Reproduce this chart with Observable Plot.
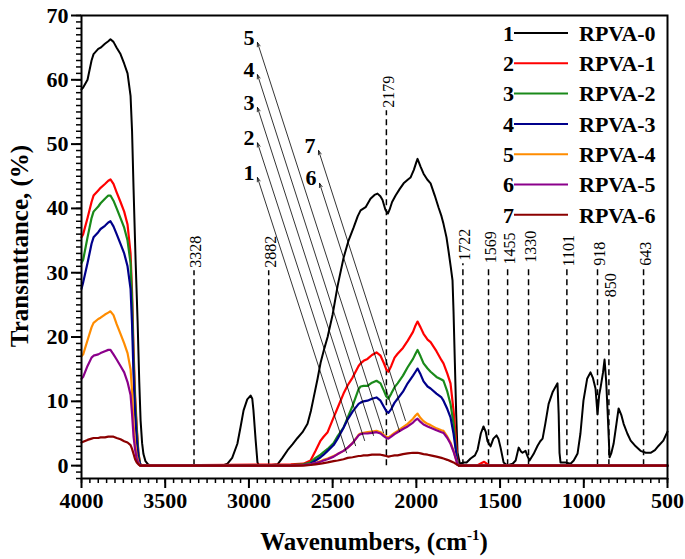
<!DOCTYPE html>
<html><head><meta charset="utf-8">
<script src="https://cdn.jsdelivr.net/npm/d3@7"></script>
<script src="https://cdn.jsdelivr.net/npm/@observablehq/plot@0.6"></script>
<style>body{margin:0;background:#fff} svg{display:block}</style>
</head><body><div id="chart"></div>
<script>
// ---------- DATA ----------
const seriesNames = ["RPVA-0","RPVA-1","RPVA-2","RPVA-3","RPVA-4","RPVA-5","RPVA-6"];
const seriesNums = ["1","2","3","4","5","6","7"];
const seriesColors = ["#000000","#ff0000","#1a8a1a","#00008b","#ff8c00","#8b008b","#8b0000"];

// RPVA-0 (black)
const w0 = [4000,3990,3964,3940,3928,3900,3886,3860,3840,3827,3809,3790,3767,3745,3725,3707,3698,3689,3677,3665,3655,3647,3638,3630,3618,3606,3590,3300,3160,3128,3100,3069,3050,3032,3010,2990,2980,2973,2960,2949,2940,2900,2829,2800,2769,2740,2710,2680,2650,2630,2614,2590,2572,2550,2530,2500,2470,2435,2405,2375,2350,2333,2303,2274,2250,2232,2215,2202,2185,2170,2160,2145,2124,2100,2076,2050,2035,2015,2000,1993,1975,1957,1935,1915,1890,1867,1850,1838,1820,1808,1795,1784,1778,1770,1762,1754,1740,1718,1700,1676,1650,1634,1615,1599,1585,1575,1557,1540,1521,1510,1497,1479,1460,1449,1425,1407,1389,1375,1366,1348,1335,1324,1300,1276,1260,1246,1230,1210,1185,1157,1150,1145,1139,1109,1079,1060,1037,1020,1002,980,960,945,930,918,908,900,885,876,866,858,846,835,822,805,792,775,762,740,720,690,661,630,601,575,553,525,500];
const t0 = [58.5,58.8,60,63,64,64.8,65,65.6,66,66.3,65.9,65,64,62.5,61,57.5,52,43,32,22.5,13,7,3.5,1.8,0.7,0.3,0,0,0,0.3,1.2,3.4,6,8.6,10.3,10.9,10.4,8.6,4,0.5,0,0,0.2,1.2,2.4,3.3,4.3,5.2,6.5,8.5,10.5,13.5,16,18.2,20,23.5,28,32.3,35,37,38.8,39.7,40.2,41.5,42.1,42.3,41.9,41.3,39.8,39.2,39.8,41,42,43,43.9,44.5,44.8,46,47.2,47.7,46.5,45.4,44.5,43.9,42,40.1,38.8,37.6,35.5,33.4,31,28.8,24,16,8,2,0.3,0.5,0.5,1.1,1.6,2.5,5,6.1,5.2,3.8,3,4.2,4.7,4.2,2.8,0.5,0.1,0.1,0.3,0.8,2.8,2.2,2,2.3,1.4,0.8,1.8,3.1,3.8,4.2,6.5,9.6,11.5,12.8,8,2,0.5,0.5,0.3,0.8,1.9,5,10.1,13.5,14.5,13.6,12,8,11,12.1,14.5,16.5,13,8.6,1.3,2,3.4,6.5,8.9,7.8,6.5,5,3.9,3,2.3,2,2,2.4,3.1,3.9,5.3];

// RPVA-1 ... RPVA-6 share one wavenumber grid
const wc = [4000,3990,3964,3940,3928,3900,3886,3860,3840,3827,3809,3790,3767,3745,3725,3707,3698,3689,3680,3670,3660,3650,3640,
  2750,2674,2632,2602,2572,2554,2530,2494,2470,2435,2410,2381,2345,2333,2315,2292,2265,2238,2214,2195,2180,2167,2150,2130,2112,2080,2052,2020,2005,1993,1975,1957,1933,1915,1880,1850,1838,1815,1796,1778,1765,1754,1745,
  1640,1610,1595,1580,1560,1540,500];
const t1 = [35.5,36,38.5,41,42,42.8,43.2,43.8,44.3,44.5,43.8,42.5,41,39.5,37.5,33,27,18,11,6,2,0.3,0,
  0.2,0.3,0.8,2.3,3.9,4.5,5.2,7.5,9,11.2,12.5,13.7,15.5,15.9,16.3,16.6,17.2,17.6,17.1,16,15,14.6,15.5,16.8,17.4,18.3,19.4,20.8,21.8,22.4,21.5,20.5,19.6,19.2,17.8,16.4,15.9,14.3,12.8,8.6,4.5,0.5,0,
  0,0.4,0.6,0.3,0,0,0];
const t2 = [31.5,32,35.5,38.5,39.5,40.3,40.8,41.5,42,42,41.2,40,38.5,37,35,31.5,25.5,16.5,10,5.5,1.8,0.3,0,
  0.1,0.2,0.5,1.2,1.7,2.1,2.6,3.5,4.6,5.9,7.5,9.3,11.9,12.3,12.4,12.4,12.9,13.2,12.8,11.7,10.8,10.4,11.2,12.2,12.8,14,15.3,16.6,17.4,18,17,15.9,15.1,14.6,13.8,13.4,13.2,11.5,9.6,6.5,3,0.4,0,
  0,0,0,0,0,0,0];
const t3 = [27.5,28.5,31.5,34.5,35.5,36.3,36.8,37.3,37.8,38,37.2,36,34.5,33,31,27.5,22,14,8,4,1.2,0.2,0,
  0,0.1,0.3,0.8,1.3,1.7,2.3,3.2,4.2,5.9,7.2,8.4,9.6,9.8,10,10.1,10.4,10.6,10.1,9.2,8.5,8.2,8.8,9.8,10.4,11.5,12.8,14,14.6,15.1,14.2,13.1,12.3,12,11.2,10.6,10.1,8.8,7.5,5,2.5,0.3,0,
  0,0,0,0,0,0,0];
const t4 = [17,17.3,19.5,21.5,22.2,22.8,23,23.5,23.8,24,23.4,22,20.5,19,17.5,15,11.5,6.5,3.5,1.5,0.5,0,0,
  0,0.1,0.2,0.4,0.7,0.9,1.1,1.5,1.8,2.3,2.8,3.5,4.8,5,5.1,5.2,5.3,5.4,5.2,4.8,4.5,4.4,4.7,5.1,5.4,6,6.5,7.3,7.8,8.1,7.4,6.9,6.5,6.3,5.8,5.5,5.4,4.5,3.6,2.3,1.2,0.2,0,
  0,0,0,0,0,0,0];
const t5 = [13.5,13.8,15.5,16.8,17.1,17.3,17.5,17.8,18,18,17.3,16.5,15.5,14.5,13,11,8,4.5,2.5,1,0.3,0,0,
  0,0.1,0.2,0.4,0.6,0.8,1.0,1.4,1.8,2.3,2.8,3.5,4.7,4.9,5,5,5.1,5.2,5,4.6,4.3,4.2,4.5,4.9,5.2,5.7,6.1,6.7,7.1,7.3,6.8,6.4,6.1,5.9,5.5,5.2,5.1,4.3,3.4,2.2,1.1,0.2,0,
  0,0,0,0,0,0,0];
const t6 = [3.6,3.7,4,4.2,4.3,4.3,4.4,4.4,4.5,4.5,4.5,4.3,4.1,3.8,3.6,3.2,2.6,1.8,1,0.5,0.2,0,0,
  0,0,0.1,0.2,0.3,0.4,0.5,0.7,0.8,1,1.2,1.3,1.5,1.5,1.6,1.6,1.7,1.7,1.7,1.6,1.5,1.4,1.5,1.6,1.6,1.8,1.9,2,2,2,1.9,1.8,1.7,1.6,1.4,1.2,1.1,0.9,0.7,0.5,0.3,0.1,0,
  0,0,0,0,0,0,0];

// peak markers
const peakW = [3328,2882,2179,1722,1569,1455,1330,1101,918,850,643];
const peakLabels = ["3328","2882","2179","1722","1569","1455","1330","1101","918","850","643"];
const peakTop = [30.3,30.3,55.2,31.4,31,30.8,31.1,30.5,30.6,25.7,30.6];

// arrows with curve numbers
const arrowNums = ["1","2","3","4","5","6","7"];
const arrowTipW = [2949,2949,2949,2949,2949,2578,2584];
const arrowTipT = [44.8,50.2,55.7,60.8,65.8,43.9,49];
const arrowEndW = [2417,2363,2309,2256,2196,2100,2065];
const arrowEndT = [2.0,3.1,3.9,4.7,5.1,5.3,7];

const xMajor = d3.range(500, 4001, 500);
const xMinor = d3.range(500, 4001, 50);
const yMajor = d3.range(0, 71, 10);
const yMinor = d3.range(-2, 71, 1);

// ---------- BUILD ----------
const seriesW = [w0, wc, wc, wc, wc, wc, wc];
const seriesT = [t0, t1, t2, t3, t4, t5, t6];
const lineMarks = seriesNames.map((name, k) =>
  Plot.line(seriesW[k].map((w, i) => ({w, t: seriesT[k][i]})),
    {x: "w", y: "t", stroke: seriesColors[k], strokeWidth: k === 0 ? 2 : 2.2})
);
const peaks = peakW.map((w, i) => ({w, top: peakTop[i], label: peakLabels[i]}));
const arrows = arrowNums.map((n, i) => ({n, x1: arrowEndW[i], y1: arrowEndT[i], x2: arrowTipW[i], y2: arrowTipT[i]}));

const svg = Plot.plot({
  width: 685, height: 559,
  marginLeft: 81, marginRight: 18, marginTop: 15, marginBottom: 81,
  x: {domain: [4000, 500]},
  y: {domain: [-2, 70]},
  style: {fontFamily: "'Liberation Serif', 'Times New Roman', serif", fontWeight: "bold", fontSize: "22px", background: "#fff", color: "#000"},
  marks: [
    Plot.ruleX(peaks, {x: "w", y1: 0, y2: "top", stroke: "#000", strokeWidth: 1.5, strokeDasharray: "6,4"}),
    Plot.text(peaks, {x: "w", y: "top", text: "label", rotate: -90, textAnchor: "start", dy: -3, dx: 2, fontSize: 16, fontWeight: "normal"}),
    ...lineMarks,
    Plot.arrow(arrows, {x1: "x1", y1: "y1", x2: "x2", y2: "y2", stroke: "#000", strokeWidth: 0.8, headLength: 8, headAngle: 40}),
    Plot.text(arrows, {x: "x2", y: "y2", text: "n", textAnchor: "end", dx: -3, dy: -5, fontSize: 22, fontWeight: "bold"}),
    Plot.axisX({ticks: xMinor, tickSize: 5, text: null, strokeWidth: 1.5, label: null}),
    Plot.axisX({ticks: xMajor, tickSize: 10, tickPadding: 4, strokeWidth: 2, label: null, fontSize: 22, tickFormat: d => String(d)}),
    Plot.axisY({ticks: yMinor, tickSize: 5, text: null, strokeWidth: 1.5, label: null}),
    Plot.axisY({ticks: yMajor, tickSize: 10, tickPadding: 3, strokeWidth: 2, label: null, fontSize: 22}),
    Plot.frame({stroke: "#000", strokeWidth: 2})
  ]
});

const s = d3.select(svg);
// axis titles
s.append("text")
  .attr("transform", "translate(28,246) rotate(-90)")
  .attr("text-anchor", "middle")
  .attr("font-size", 25).attr("font-weight", "bold")
  .text("Transmttance, (%)");
const xl = s.append("text")
  .attr("x", 374).attr("y", 550)
  .attr("text-anchor", "middle")
  .attr("font-size", 25).attr("font-weight", "bold");
xl.append("tspan").text("Wavenumbers, (cm");
xl.append("tspan").attr("font-size", 15).attr("dy", -10).text("-1");
xl.append("tspan").attr("dy", 10).text(")");

// legend
const lg = s.append("g");
seriesNames.forEach((name, i) => {
  const y = 33 + i * 30.3;
  lg.append("text").attr("x", 514).attr("y", y).attr("dy", "0.35em").attr("text-anchor", "end")
    .attr("font-size", 22).attr("font-weight", "bold").text(seriesNums[i]);
  lg.append("line").attr("x1", 514).attr("x2", 568).attr("y1", y).attr("y2", y)
    .attr("stroke", seriesColors[i]).attr("stroke-width", 2);
  lg.append("text").attr("x", 579).attr("y", y).attr("dy", "0.35em").attr("text-anchor", "start")
    .attr("font-size", 22).attr("font-weight", "bold").text(name);
});

document.getElementById("chart").appendChild(svg);
</script></body></html>
